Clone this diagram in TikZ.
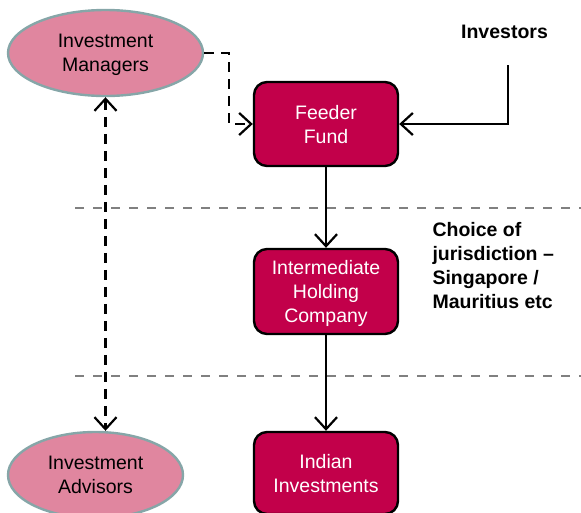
\documentclass[tikz,border=0pt]{standalone}
\usepackage{fontspec}
\setmainfont{Liberation Sans}
\usetikzlibrary{shapes.geometric,arrows.meta}
\definecolor{boxred}{HTML}{C2004A}
\definecolor{ovalpink}{HTML}{E0869F}
\definecolor{ovalrim}{HTML}{86A6A8}
\definecolor{sepgray}{HTML}{808080}
\tikzset{
  txt/.style={font=\fontsize{19.5}{24}\selectfont, align=center, text depth=-9pt},
  entity/.style={txt, draw=black, line width=2.4pt, fill=boxred, text=white,
    rounded corners=13pt, minimum width=144pt, inner sep=0pt},
  party/.style={txt, ellipse, draw=ovalrim, line width=2.4pt, fill=ovalpink,
    text=black, inner sep=0pt},
  note/.style={font=\bfseries\fontsize{19.5}{24}\selectfont, align=left},
  barb/.tip={Straight Barb[length=12pt,width=22pt,line width=2.2pt]},
  flow/.style={draw=black, line width=2.2pt, -barb},
  advise/.style={flow, dash pattern=on 10pt off 7pt},
  separator/.style={draw=sepgray, line width=2.5pt, dash pattern=on 8.5pt off 9.5pt}
}
\begin{document}
\begin{tikzpicture}[x=1pt,y=-1pt]
  \useasboundingbox (0,0) rectangle (581,512);

  % jurisdiction band boundaries
  \coordinate (s1l) at (75,208);
  \coordinate (s1r) at (581,208);
  \coordinate (s2l) at (75,376);
  \coordinate (s2r) at (581,376);
  \draw[separator] (s1l) -- (s1r);
  \draw[separator] (s2l) -- (s2r);

  % structure chain
  \node[entity, minimum height=84pt] (feeder) at (326,124) {Feeder\\Fund};
  \node[entity, minimum height=85pt] (ihc) at (326,291.5) {Intermediate\\Holding\\Company};
  \node[entity, minimum height=82pt] (india) at (326,473) {Indian\\Investments};

  % parties
  \node[party, minimum width=195pt, minimum height=86pt] (mgr) at (105.5,53) {Investment\\Managers};
  \node[party, minimum width=175pt, minimum height=86pt] (adv) at (95.5,475) {Investment\\Advisors};

  % labels
  \node[note, anchor=center] (inv) at (504.5,32) {Investors};
  \node[note, anchor=west] (choice) at (429,266) {Choice of\\jurisdiction --\\Singapore /\\Mauritius etc};

  % investor money into the feeder fund
  \coordinate (invtop) at (508,65);
  \draw[flow] (invtop) |- (feeder.east);

  % manager to feeder fund
  \coordinate (mgrout) at (229,53);
  \draw[advise] (mgr.east) -- (mgrout) |- (feeder.west);

  % manager <-> advisor
  \draw[advise, barb-barb] (mgr.south) -- (mgr.south |- adv.north);

  % downstream flow
  \draw[flow] (feeder) -- (ihc);
  \draw[flow] (ihc) -- (india);
\end{tikzpicture}
\end{document}
